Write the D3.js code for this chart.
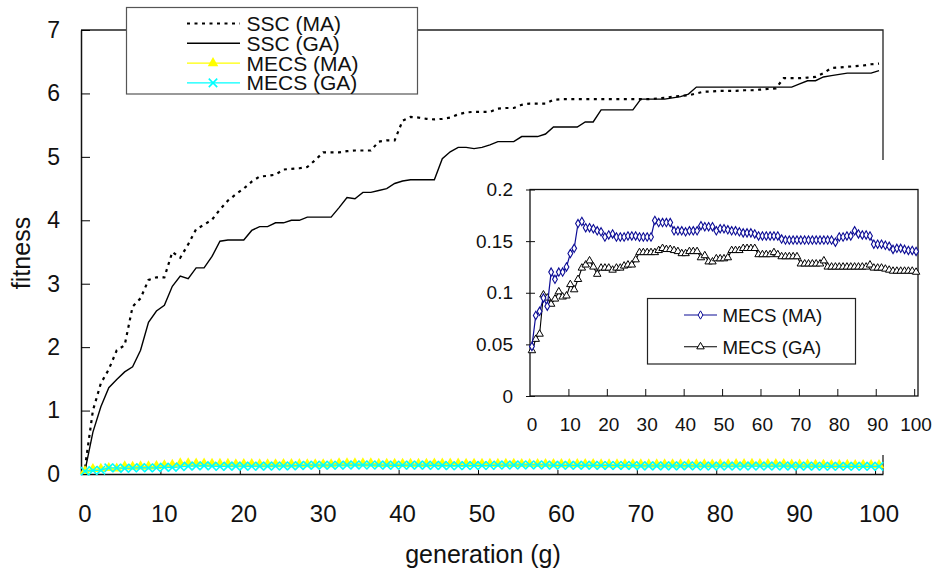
<!DOCTYPE html>
<html>
<head>
<meta charset="utf-8">
<script src="https://cdn.jsdelivr.net/npm/d3@7/dist/d3.min.js"></script>
<style>
body { margin: 0; background: #fff; }
svg { font-family: "Liberation Sans", Arial, sans-serif; }
</style>
</head>
<body>
<div id="chart"></div>
<script>
// generations 0..100 (categories)
var generations = d3.range(0, 101);
var xTickLabels = [0, 10, 20, 30, 40, 50, 60, 70, 80, 90, 100];
var yTickLabels = [0, 1, 2, 3, 4, 5, 6, 7];
var insetYTickLabels = [0, 0.05, 0.1, 0.15, 0.2];

var sscMA = [0.10,1.00,1.43,1.65,1.95,2.03,2.64,2.77,3.06,3.10,
 3.10,3.50,3.41,3.62,3.86,3.93,4.01,4.17,4.31,4.41,
 4.50,4.61,4.69,4.70,4.72,4.80,4.81,4.82,4.84,4.95,
 5.07,5.07,5.07,5.09,5.10,5.10,5.10,5.24,5.26,5.26,
 5.57,5.63,5.62,5.60,5.59,5.60,5.62,5.67,5.70,5.71,
 5.71,5.71,5.76,5.77,5.77,5.82,5.84,5.84,5.84,5.90,
 5.91,5.91,5.91,5.91,5.91,5.91,5.91,5.91,5.91,5.91,
 5.91,5.91,5.92,5.93,5.95,5.96,5.97,6.00,6.03,6.03,
 6.04,6.04,6.04,6.05,6.05,6.06,6.07,6.08,6.24,6.24,
 6.24,6.25,6.26,6.32,6.40,6.41,6.42,6.43,6.44,6.46,
 6.47];

var sscGA = [0.05,0.66,1.06,1.36,1.49,1.61,1.69,1.95,2.39,2.57,
 2.66,2.96,3.12,3.08,3.25,3.25,3.43,3.67,3.69,3.69,
 3.69,3.84,3.90,3.90,3.96,3.96,4.00,4.00,4.05,4.05,
 4.05,4.05,4.20,4.36,4.34,4.44,4.44,4.47,4.50,4.58,
 4.62,4.64,4.64,4.64,4.64,4.97,5.08,5.15,5.15,5.13,
 5.15,5.19,5.24,5.24,5.24,5.32,5.32,5.32,5.36,5.47,
 5.47,5.47,5.47,5.55,5.55,5.74,5.74,5.74,5.74,5.74,
 5.91,5.91,5.91,5.91,5.93,5.95,5.99,6.10,6.10,6.10,
 6.10,6.10,6.10,6.10,6.10,6.10,6.10,6.10,6.10,6.10,
 6.15,6.20,6.20,6.26,6.28,6.30,6.32,6.32,6.32,6.32,
 6.36];

var mecsMA = [0.048,0.078,0.082,0.095,0.087,0.120,0.113,0.120,0.120,0.125,
 0.138,0.143,0.167,0.169,0.163,0.163,0.162,0.160,0.159,0.154,
 0.156,0.157,0.154,0.154,0.154,0.155,0.155,0.155,0.154,0.154,
 0.154,0.154,0.170,0.168,0.168,0.168,0.168,0.160,0.160,0.160,
 0.159,0.160,0.160,0.160,0.165,0.164,0.164,0.164,0.160,0.162,
 0.162,0.161,0.160,0.160,0.159,0.158,0.158,0.158,0.157,0.155,
 0.155,0.155,0.155,0.155,0.155,0.152,0.151,0.151,0.151,0.151,
 0.151,0.151,0.151,0.151,0.151,0.151,0.151,0.151,0.151,0.149,
 0.154,0.154,0.155,0.155,0.160,0.157,0.156,0.156,0.155,0.147,
 0.147,0.147,0.146,0.145,0.142,0.143,0.143,0.142,0.141,0.141,
 0.140];

var mecsGA = [0.044,0.055,0.060,0.098,0.095,0.089,0.094,0.101,0.096,0.097,
 0.108,0.103,0.113,0.124,0.127,0.131,0.125,0.118,0.124,0.124,
 0.124,0.122,0.124,0.124,0.126,0.127,0.127,0.132,0.139,0.139,
 0.139,0.139,0.139,0.141,0.143,0.142,0.142,0.141,0.140,0.138,
 0.138,0.140,0.140,0.140,0.134,0.136,0.130,0.130,0.133,0.133,
 0.133,0.134,0.141,0.141,0.141,0.143,0.143,0.143,0.143,0.137,
 0.137,0.137,0.137,0.139,0.137,0.135,0.135,0.135,0.135,0.135,
 0.128,0.128,0.128,0.128,0.128,0.128,0.131,0.125,0.125,0.125,
 0.125,0.125,0.125,0.125,0.125,0.125,0.125,0.125,0.127,0.124,
 0.124,0.124,0.123,0.122,0.121,0.121,0.121,0.121,0.121,0.121,
 0.120];

var width = 934, height = 571;
var navy = "#0c0c96";
var timesSym = d3.symbolTimes || d3.symbolCross;

var svg = d3.select("#chart").append("svg")
  .attr("width", width)
  .attr("height", height);

// ---------- main chart ----------
var x = d3.scaleLinear().domain([0, 101]).range([81, 883]);
var y = d3.scaleLinear().domain([0, 7]).range([474, 30]);

// frame top + right
svg.append("path")
  .attr("d", "M" + x(0) + "," + y(7) + "H" + x(101) + "V" + y(0))
  .attr("fill", "none").attr("stroke", "#222").attr("stroke-width", 1.3);

var yAxis = svg.append("g")
  .attr("transform", "translate(" + x(0) + ",0)")
  .call(d3.axisLeft(y).tickValues(yTickLabels).tickSize(-9).tickSizeOuter(0)
    .tickPadding(21).tickFormat(d3.format("d")));
yAxis.select(".domain").attr("stroke", "#111").attr("stroke-width", 1.5);
yAxis.selectAll("text").style("font-size", "23px").attr("fill", "#111");

var xAxis = svg.append("g")
  .attr("transform", "translate(0," + y(0) + ")")
  .call(d3.axisBottom(x).tickValues(d3.range(10, 101, 10)).tickSize(-4).tickSizeOuter(0).tickFormat(""));
xAxis.select(".domain").attr("stroke", "#111").attr("stroke-width", 1.5);

svg.append("g").selectAll("text")
  .data(xTickLabels).enter().append("text")
  .attr("x", d => x(d + 0.5))
  .attr("y", 522)
  .attr("text-anchor", "middle")
  .style("font-size", "24px")
  .attr("fill", "#111")
  .text(d => d);

svg.append("text")
  .attr("x", 483).attr("y", 563)
  .attr("text-anchor", "middle")
  .style("font-size", "25px")
  .attr("fill", "#111")
  .text("generation (g)");

svg.append("text")
  .attr("transform", "translate(30,253) rotate(-90)")
  .attr("text-anchor", "middle")
  .style("font-size", "25px")
  .attr("fill", "#111")
  .text("fitness");

var lineMain = d3.line()
  .x((d, i) => x(generations[i] + 0.5))
  .y(d => y(d));

svg.append("path").datum(sscGA)
  .attr("d", lineMain)
  .attr("fill", "none").attr("stroke", "#000").attr("stroke-width", 1.4);

svg.append("path").datum(sscMA)
  .attr("d", lineMain)
  .attr("fill", "none").attr("stroke", "#000").attr("stroke-width", 2.2)
  .attr("stroke-dasharray", "3,4.5");

// MECS series at the bottom of the main chart
svg.append("path").datum(mecsMA)
  .attr("d", lineMain)
  .attr("fill", "none").attr("stroke", "#ffff00").attr("stroke-width", 1.3);
svg.append("g").selectAll("path")
  .data(mecsMA).enter().append("path")
  .attr("transform", (d, i) => "translate(" + x(generations[i] + 0.5) + "," + y(d) + ")")
  .attr("d", d3.symbol().type(d3.symbolTriangle).size(48))
  .attr("fill", "#ffff00");

svg.append("path").datum(mecsGA)
  .attr("d", lineMain)
  .attr("fill", "none").attr("stroke", "#00ffff").attr("stroke-width", 1.3);
svg.append("g").selectAll("path")
  .data(mecsGA).enter().append("path")
  .attr("transform", (d, i) => "translate(" + x(generations[i] + 0.5) + "," + y(d) + ")")
  .attr("d", d3.symbol().type(timesSym).size(48))
  .attr("fill", "none").attr("stroke", "#00ffff").attr("stroke-width", 1.6);

// main legend
var legendItems = [
  {name: "SSC (MA)", color: "#000", dash: "3,4.5", width: 2.2, sym: null},
  {name: "SSC (GA)", color: "#000", dash: null, width: 1.4, sym: null},
  {name: "MECS (MA)", color: "#ffff00", dash: null, width: 1.3, sym: "tri"},
  {name: "MECS (GA)", color: "#00ffff", dash: null, width: 1.3, sym: "x"}
];

var legend = svg.append("g");
legend.append("rect")
  .attr("x", 126.5).attr("y", 7.5).attr("width", 291).attr("height", 86.5)
  .attr("fill", "#fff").attr("stroke", "#555").attr("stroke-width", 1.2);

var keys = legend.selectAll(".key")
  .data(legendItems).enter().append("g")
  .attr("class", "key")
  .attr("transform", (d, i) => "translate(0," + (23.5 + i * 19.8) + ")");

keys.append("line")
  .attr("x1", 187).attr("x2", 240)
  .attr("stroke", d => d.color)
  .attr("stroke-width", d => d.width)
  .attr("stroke-dasharray", d => d.dash);

keys.filter(d => d.sym === "tri").append("path")
  .attr("transform", "translate(213,0)")
  .attr("d", d3.symbol().type(d3.symbolTriangle).size(48))
  .attr("fill", "#ffff00");
keys.filter(d => d.sym === "x").append("path")
  .attr("transform", "translate(213,0)")
  .attr("d", d3.symbol().type(timesSym).size(48))
  .attr("fill", "none").attr("stroke", "#00ffff").attr("stroke-width", 1.6);

keys.append("text")
  .attr("x", 246.5).attr("y", 7.5)
  .style("font-size", "21px")
  .attr("fill", "#111")
  .text(d => d.name);

// ---------- inset chart ----------
svg.append("rect")
  .attr("x", 462).attr("y", 160).attr("width", 472).attr("height", 295)
  .attr("fill", "#fff");

var xi = d3.scaleLinear().domain([0, 101]).range([530, 918]);
var yi = d3.scaleLinear().domain([0, 0.2]).range([396, 189.5]);

svg.append("rect")
  .attr("x", xi(0)).attr("y", yi(0.2))
  .attr("width", xi(101) - xi(0)).attr("height", yi(0) - yi(0.2))
  .attr("fill", "none").attr("stroke", "#111").attr("stroke-width", 1.3);

var yiAxis = svg.append("g")
  .attr("transform", "translate(" + xi(0) + ",0)")
  .call(d3.axisLeft(yi).tickValues(insetYTickLabels).tickSize(4).tickSizeOuter(0)
    .tickPadding(13).tickFormat(d => d3.format("")(d)));
yiAxis.select(".domain").remove();
yiAxis.selectAll("line").attr("x2", 5).attr("x1", -4).attr("stroke", "#111");
yiAxis.selectAll("text").style("font-size", "19px").attr("fill", "#111");

var xiAxis = svg.append("g")
  .attr("transform", "translate(0," + yi(0) + ")")
  .call(d3.axisBottom(xi).tickValues(d3.range(10, 101, 10)).tickSize(-7).tickSizeOuter(0).tickFormat(""));
xiAxis.select(".domain").remove();
xiAxis.selectAll("line").attr("stroke", "#111");

svg.append("g").selectAll("text")
  .data(xTickLabels).enter().append("text")
  .attr("x", d => xi(d + 0.5))
  .attr("y", 431)
  .attr("text-anchor", "middle")
  .style("font-size", "19px")
  .attr("fill", "#111")
  .text(d => d);

var lineInset = d3.line()
  .x((d, i) => xi(generations[i] + 0.5))
  .y(d => yi(d));

svg.append("path").datum(mecsGA)
  .attr("d", lineInset)
  .attr("fill", "none").attr("stroke", "#000").attr("stroke-width", 1.1);
svg.append("g").selectAll("path")
  .data(mecsGA).enter().append("path")
  .attr("transform", (d, i) => "translate(" + xi(generations[i] + 0.5) + "," + yi(d) + ")")
  .attr("d", d3.symbol().type(d3.symbolTriangle).size(24))
  .attr("fill", "#fff").attr("stroke", "#000").attr("stroke-width", 1);

svg.append("path").datum(mecsMA)
  .attr("d", lineInset)
  .attr("fill", "none").attr("stroke", navy).attr("stroke-width", 1.2);
svg.append("g").selectAll("path")
  .data(mecsMA).enter().append("path")
  .attr("transform", (d, i) => "translate(" + xi(generations[i] + 0.5) + "," + yi(d) + ")")
  .attr("d", d3.symbol().type(d3.symbolDiamond).size(20))
  .attr("fill", "#fff").attr("stroke", navy).attr("stroke-width", 1.1);

// inset legend
var insetLegend = svg.append("g");
insetLegend.append("rect")
  .attr("x", 647.5).attr("y", 298.5).attr("width", 208).attr("height", 65.5)
  .attr("fill", "#fff").attr("stroke", "#222").attr("stroke-width", 1.2);

var insetItems = [
  {name: "MECS (MA)", color: navy, sym: d3.symbolDiamond, size: 20},
  {name: "MECS (GA)", color: "#000", sym: d3.symbolTriangle, size: 24}
];

var ikeys = insetLegend.selectAll(".ikey")
  .data(insetItems).enter().append("g")
  .attr("class", "ikey")
  .attr("transform", (d, i) => "translate(0," + (315 + i * 31.7) + ")");

ikeys.append("line")
  .attr("x1", 684).attr("x2", 717)
  .attr("stroke", d => d.color).attr("stroke-width", 1.1);
ikeys.append("path")
  .attr("transform", "translate(700.5,0)")
  .attr("d", d => d3.symbol().type(d.sym).size(d.size)())
  .attr("fill", "#fff").attr("stroke", d => d.color).attr("stroke-width", 1);
ikeys.append("text")
  .attr("x", 722.5).attr("y", 6.8)
  .style("font-size", "18.7px")
  .attr("fill", "#111")
  .text(d => d.name);
</script>
</body>
</html>
